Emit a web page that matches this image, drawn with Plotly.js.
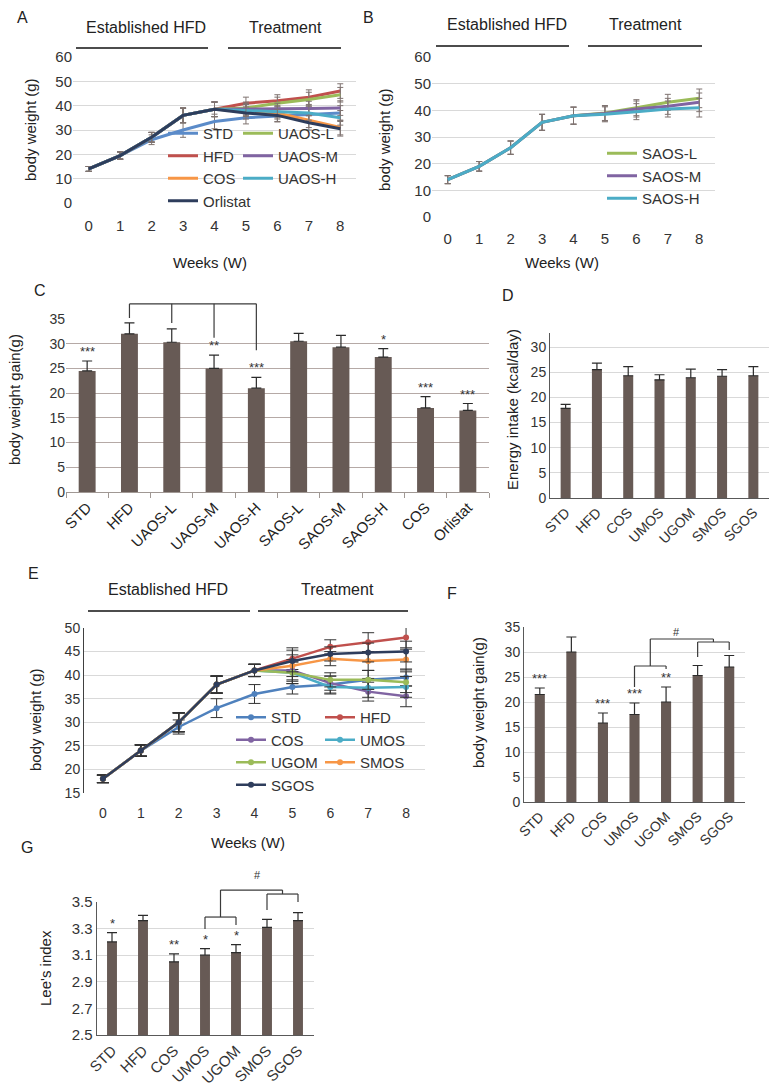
<!DOCTYPE html>
<html>
<head>
<meta charset="utf-8">
<script src="https://cdn.plot.ly/plotly-3.0.1.min.js"></script>
<style>body{margin:0;background:#fff}#chart{width:782px;height:1089px}</style>
</head>
<body>
<div id="chart"></div>
<script>
// ---- data ----
var weeks = ['0', '1', '2', '3', '4', '5', '6', '7', '8'];

// A: body weight (g), UAOS groups
var aSTD = [14, 19.5, 26, 30, 33.5, 35, 35.8, 36.5, 37];
var aHFD = [14, 19.5, 27, 36, 38.5, 41, 42, 43.5, 46];
var aCOS = [14, 19.5, 27, 36, 38.5, 38, 37, 34, 31];
var aOrlistat = [14, 19.5, 27, 36, 38.5, 37, 36, 33, 30.5];
var aUAOSL = [14, 19.5, 27, 36, 38.5, 39, 41, 42.5, 44.5];
var aUAOSM = [14, 19.5, 27, 36, 38.5, 38.5, 38.5, 38.8, 39];
var aUAOSH = [14, 19.5, 27, 36, 38.5, 38, 37.5, 37, 35];
var aErr = [1, 1.5, 2, 3, 3, 2.5, 2.5, 3, 3];

// B: body weight (g), SAOS groups
var bSAOSL = [14, 19, 26, 35.5, 38, 39, 41, 43, 44.5];
var bSAOSM = [14, 19, 26, 35.5, 38, 38.8, 40.5, 41.5, 43];
var bSAOSH = [14, 19, 26, 35.5, 38, 38.5, 39.5, 40.5, 41];
var bErr = [1.5, 1.8, 2.5, 3, 3.2, 2.8, 3, 3, 3.5];

// C: body weight gain (g)
var cGroups = ['STD', 'HFD', 'UAOS-L', 'UAOS-M', 'UAOS-H', 'SAOS-L', 'SAOS-M', 'SAOS-H', 'COS', 'Orlistat'];
var cGain = [24.5, 32, 30.3, 25, 21, 30.5, 29.3, 27.3, 17, 16.5];
var cErr = [2, 2.2, 2.7, 2.7, 2.2, 1.6, 2.4, 1.7, 2.3, 1.4];
var cStars = ['***', '', '', '**', '***', '', '', '*', '***', '***'];

// D: energy intake (kcal/day)
var dGroups = ['STD', 'HFD', 'COS', 'UMOS', 'UGOM', 'SMOS', 'SGOS'];
var dIntake = [17.8, 25.5, 24.3, 23.5, 23.9, 24.2, 24.3];
var dErr = [0.8, 1.3, 1.8, 1, 1.7, 1.3, 1.8];

// E: body weight (g), oligosaccharide groups
var eSTD = [18, 24, 29, 33, 36, 37.5, 38, 39, 39.5];
var eHFD = [18, 24, 30, 38, 41, 43.5, 46, 47, 48];
var eCOS = [18, 24, 30, 38, 41, 41, 38.3, 36.5, 35.5];
var eUMOS = [18, 24, 30, 38, 41, 40.5, 37.5, 37.3, 37.5];
var eUGOM = [18, 24, 30, 38, 41, 40.5, 39, 39, 38.5];
var eSMOS = [18, 24, 30, 38, 41, 42, 43.5, 43, 43.3];
var eSGOS = [18, 24, 30, 38, 41, 43, 44.5, 44.8, 45];
var eErrSTD = [0.8, 1.2, 1.5, 2, 2, 1.5, 1.8, 2, 1.8];
var eErr = [0.8, 1.2, 2, 1.8, 1.3, 2.3, 1.5, 2, 2.2];

// F: body weight gain (g)
var fGroups = ['STD', 'HFD', 'COS', 'UMOS', 'UGOM', 'SMOS', 'SGOS'];
var fGain = [21.5, 30, 15.8, 17.5, 20, 25.3, 27];
var fErr = [1.3, 3, 2, 2.3, 3, 2, 2.3];
var fStars = ['***', '', '***', '***', '**', '', ''];

// G: Lee's index
var gGroups = ['STD', 'HFD', 'COS', 'UMOS', 'UGOM', 'SMOS', 'SGOS'];
var gLee = [3.2, 3.36, 3.05, 3.1, 3.12, 3.31, 3.36];
var gErr = [0.07, 0.04, 0.06, 0.05, 0.06, 0.06, 0.06];
var gStars = ['*', '', '**', '*', '*', '', ''];

// ---- style ----
var W = 782, H = 1089;
function px(x) { return x / W; }
function py(y) { return 1 - y / H; }
var FONT = 'Liberation Sans, Arial, sans-serif';
var barColor = '#675a55';
var errColor = '#7f7370';
var grid = '#d9d9d9';

var layout = {
  width: W, height: H,
  margin: {l: 0, r: 0, t: 0, b: 0},
  paper_bgcolor: '#fff', plot_bgcolor: 'rgba(0,0,0,0)',
  font: {family: FONT, color: '#333', size: 14},
  showlegend: true,
  hovermode: false,
  annotations: [],
  shapes: []
};

function catAxis(dom, n, extra) {
  var a = {domain: [px(dom[0]), px(dom[1])], type: 'category', range: [-0.5, n - 0.5],
    showgrid: false, zeroline: false, ticks: '', tickfont: {size: 14, color: '#333'}, fixedrange: true};
  for (var k in extra) a[k] = extra[k];
  return a;
}
function valAxis(dom, range, dtick, extra) {
  var a = {domain: [py(dom[1]), py(dom[0])], range: range, dtick: dtick, gridcolor: grid,
    zeroline: false, showline: false, ticks: '', tickfont: {size: 14, color: '#333'}, fixedrange: true};
  for (var k in extra) a[k] = extra[k];
  return a;
}

layout.xaxis = catAxis([73, 356], 9, {anchor: 'y', tickfont: {size: 15, color: '#333'}, ticklabelstandoff: 12});
layout.yaxis = valAxis([57, 203], [0, 60], 10, {anchor: 'x', tickfont: {size: 15, color: '#333'}});
layout.xaxis2 = catAxis([432, 715], 9, {anchor: 'y2', tickfont: {size: 15, color: '#333'}, ticklabelstandoff: 11});
layout.yaxis2 = valAxis([57, 217], [0, 60], 10, {anchor: 'x2', tickfont: {size: 15, color: '#333'}});
layout.xaxis3 = catAxis([66, 489], 10, {anchor: 'y3', tickangle: -45, showline: true, linecolor: '#a09894',
  ticks: 'outside', tickson: 'boundaries', ticklen: 5, tickcolor: '#a09894', tickfont: {size: 15, color: '#222'}});
layout.yaxis3 = valAxis([319, 492], [0, 35], 5, {anchor: 'x3', gridcolor: '#b5a9a6'});
layout.xaxis4 = catAxis([550, 769], 7, {anchor: 'y4', tickangle: -45, showline: true, linecolor: '#595959'});
layout.yaxis4 = valAxis([333, 498], [0, 32.8], 5, {anchor: 'x4', showline: true, linecolor: '#595959'});
layout.xaxis5 = catAxis([84, 425], 9, {anchor: 'y5', ticklabelstandoff: 10});
layout.yaxis5 = valAxis([628, 793], [15, 50], 5, {anchor: 'x5', showline: true, linecolor: '#404040'});
layout.xaxis6 = catAxis([524, 745], 7, {anchor: 'y6', tickangle: -45, showline: true, linecolor: '#595959'});
layout.yaxis6 = valAxis([627, 802], [0, 35], 5, {anchor: 'x6', showline: true, linecolor: '#595959'});
layout.xaxis7 = catAxis([96.5, 313.5], 7, {anchor: 'y7', tickangle: -45, showline: true, linecolor: '#595959',
  tickfont: {size: 15, color: '#333'}});
layout.yaxis7 = valAxis([902, 1035], [2.5, 3.5001], 0.2, {anchor: 'x7', tick0: 2.5, showline: true,
  linecolor: '#595959', tickformat: '.1f', tickfont: {size: 15, color: '#333'}});

function legendAt(x, y, size) {
  return {x: px(x), y: py(y), xanchor: 'left', yanchor: 'top', bgcolor: 'rgba(0,0,0,0)',
    font: {size: size, color: '#333'}, itemwidth: 30, tracegroupgap: 0};
}
layout.legend = legendAt(163, 117, 15);
layout.legend2 = legendAt(238, 117, 15);
layout.legend3 = legendAt(602, 137, 15);
layout.legend4 = legendAt(231, 701, 15);
layout.legend5 = legendAt(320, 701, 15);

// ---- traces ----
var data = [];
function lineTrace(name, y, err, color, n, legend, opts) {
  var t = {type: 'scatter', mode: 'lines', name: name, x: weeks, y: y,
    xaxis: 'x' + (n > 1 ? n : ''), yaxis: 'y' + (n > 1 ? n : ''), legend: legend,
    line: {color: color, width: 3},
    error_y: {type: 'data', array: err, color: errColor, thickness: 1, width: 3}};
  for (var k in opts) t[k] = opts[k];
  return t;
}
// A (Orlistat drawn last so it sits on top)
data.push(lineTrace('STD', aSTD, aErr, '#5b8bc9', 1, 'legend'));
data.push(lineTrace('HFD', aHFD, aErr, '#c0504d', 1, 'legend'));
data.push(lineTrace('COS', aCOS, aErr, '#f79646', 1, 'legend'));
data.push(lineTrace('UAOS-L', aUAOSL, aErr, '#9bbb59', 1, 'legend2'));
data.push(lineTrace('UAOS-M', aUAOSM, aErr, '#8064a2', 1, 'legend2'));
data.push(lineTrace('UAOS-H', aUAOSH, aErr, '#4bacc6', 1, 'legend2'));
data.push(lineTrace('Orlistat', aOrlistat, aErr, '#2e3d5c', 1, 'legend'));
// B
data.push(lineTrace('SAOS-L', bSAOSL, bErr, '#9bbb59', 2, 'legend3'));
data.push(lineTrace('SAOS-M', bSAOSM, bErr, '#8064a2', 2, 'legend3'));
data.push(lineTrace('SAOS-H', bSAOSH, bErr, '#4bacc6', 2, 'legend3'));
// E
function eTrace(name, y, err, color, legend) {
  return lineTrace(name, y, err, color, 5, legend, {
    mode: 'lines+markers', marker: {size: 6, color: color},
    line: {color: color, width: 2.5},
    error_y: {type: 'data', array: err, color: '#333', thickness: 1, width: 6}});
}
data.push(eTrace('STD', eSTD, eErrSTD, '#4f81bd', 'legend4'));
data.push(eTrace('HFD', eHFD, eErr, '#c0504d', 'legend5'));
data.push(eTrace('COS', eCOS, eErr, '#8064a2', 'legend4'));
data.push(eTrace('UMOS', eUMOS, eErr, '#4bacc6', 'legend5'));
data.push(eTrace('UGOM', eUGOM, eErr, '#9bbb59', 'legend4'));
data.push(eTrace('SMOS', eSMOS, eErr, '#f79646', 'legend5'));
data.push(eTrace('SGOS', eSGOS, eErr, '#2e3d5c', 'legend4'));

// bars
function barTrace(x, y, err, n, width) {
  return {type: 'bar', x: x, y: y, xaxis: 'x' + n, yaxis: 'y' + n, width: width,
    marker: {color: barColor}, showlegend: false,
    error_y: {type: 'data', symmetric: false, array: err, arrayminus: err.map(function () { return 0; }),
      color: '#2b2b2b', thickness: 1.2, width: 5}};
}
data.push(barTrace(cGroups, cGain, cErr, 3, 0.4));
data.push(barTrace(dGroups, dIntake, dErr, 4, 0.32));
data.push(barTrace(fGroups, fGain, fErr, 6, 0.32));
data.push(barTrace(gGroups, gLee, gErr, 7, 0.32));

// ---- annotations ----
function txt(x, y, s, size, extra) {
  var a = {xref: 'paper', yref: 'paper', x: px(x), y: py(y), text: s, showarrow: false,
    font: {size: size, color: '#222'}, xanchor: 'center', yanchor: 'middle'};
  for (var k in extra) a[k] = extra[k];
  layout.annotations.push(a);
}
function hline(x0, x1, y, color, w) {
  layout.shapes.push({type: 'line', xref: 'paper', yref: 'paper', x0: px(x0), x1: px(x1), y0: py(y), y1: py(y),
    line: {color: color || '#111', width: w || 1.5}});
}
// panel letters
txt(22, 17, 'A', 16); txt(368, 18, 'B', 16); txt(40, 290, 'C', 16); txt(508, 295, 'D', 16);
txt(33, 573, 'E', 16); txt(452, 593, 'F', 16); txt(27, 847, 'G', 16);
// phases
txt(146, 27, 'Established HFD', 16); txt(285, 27, 'Treatment', 16);
hline(76, 208, 48); hline(228, 341, 48);
txt(507, 24, 'Established HFD', 16); txt(645, 24, 'Treatment', 16);
hline(436, 569, 46); hline(588, 702, 46);
txt(168, 589, 'Established HFD', 16); txt(337, 589, 'Treatment', 16);
hline(88, 250, 611); hline(258, 408, 611);
// axis titles
txt(210, 263, 'Weeks (W)', 15); txt(562, 263, 'Weeks (W)', 15); txt(248, 842, 'Weeks (W)', 15);
txt(30, 130, 'body weight (g)', 15, {textangle: -90});
txt(384, 140, 'body weight (g)', 15, {textangle: -90});
txt(15, 400, 'body weight gain(g)', 15, {textangle: -90});
txt(512, 410, 'Energy intake (kcal/day)', 15, {textangle: -90});
txt(35, 720, 'body weight (g)', 15, {textangle: -90});
txt(478, 703, 'body weight gain(g)', 15, {textangle: -90});
txt(45, 968, "Lee's index", 15, {textangle: -90});

// significance marks
function stars(groups, vals, errs, marks, n) {
  marks.forEach(function (m, i) {
    if (!m) return;
    layout.annotations.push({xref: 'x' + n, yref: 'y' + n, x: groups[i], y: vals[i] + errs[i], text: m,
      showarrow: false, yanchor: 'bottom', yshift: 0, font: {size: 13, color: '#333'}});
  });
}
stars(cGroups, cGain, cErr, cStars, 3);
stars(fGroups, fGain, fErr, fStars, 6);
stars(gGroups, gLee, gErr, gStars, 7);

// brackets: positions in category index / axis value units, mapped to paper
function mapX(n, i) {
  var a = layout['xaxis' + n], d = a.domain, r = a.range;
  return d[0] + (i - r[0]) / (r[1] - r[0]) * (d[1] - d[0]);
}
function mapY(n, v) {
  var a = layout['yaxis' + n], d = a.domain, r = a.range;
  return d[0] + (v - r[0]) / (r[1] - r[0]) * (d[1] - d[0]);
}
function seg(n, i0, v0, i1, v1) {
  layout.shapes.push({type: 'line', xref: 'paper', yref: 'paper',
    x0: mapX(n, i0), y0: mapY(n, v0), x1: mapX(n, i1), y1: mapY(n, v1), line: {color: '#3a3a3a', width: 1.2}});
}
// C: HFD vs UAOS
seg(3, 1, 38.06, 4, 38.06);
seg(3, 1, 38.06, 1, 35.2); seg(3, 2, 38.06, 2, 34.2); seg(3, 3, 38.06, 3, 31.2); seg(3, 4, 38.06, 4, 28.7);
// F
seg(6, 3, 27.2, 4, 27.2); seg(6, 3, 27.2, 3, 23); seg(6, 4, 27.2, 4, 26.6);
seg(6, 5, 32, 6, 32); seg(6, 5, 32, 5, 29); seg(6, 6, 32, 6, 30.4);
seg(6, 3.5, 27.2, 3.5, 32.6); seg(6, 3.5, 32.6, 5.5, 32.6); seg(6, 5.5, 32.6, 5.5, 32);
layout.annotations.push({xref: 'paper', yref: 'paper', x: mapX(6, 4.5), y: mapY(6, 34), text: '#',
  showarrow: false, font: {size: 11, color: '#333'}});
// G
seg(7, 3, 3.387, 4, 3.387); seg(7, 3, 3.387, 3, 3.297); seg(7, 4, 3.387, 4, 3.327);
seg(7, 5, 3.56, 6, 3.56); seg(7, 5, 3.56, 5, 3.44); seg(7, 6, 3.56, 6, 3.5);
seg(7, 3.5, 3.387, 3.5, 3.59); seg(7, 3.5, 3.59, 5.5, 3.59); seg(7, 5.5, 3.59, 5.5, 3.56);
layout.annotations.push({xref: 'paper', yref: 'paper', x: mapX(7, 4.5), y: mapY(7, 3.64), text: '#',
  showarrow: false, font: {size: 11, color: '#333'}});

Plotly.newPlot('chart', data, layout, {staticPlot: true});
</script>
</body>
</html>
